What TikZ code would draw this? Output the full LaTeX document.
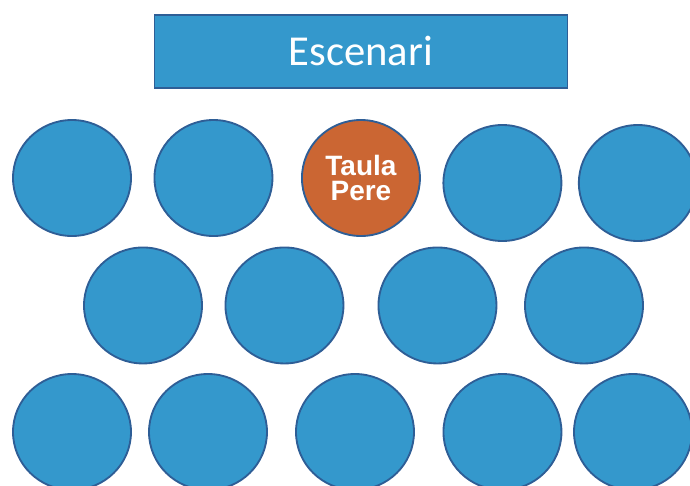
\documentclass[tikz,border=0pt]{standalone}
\usepackage{xcolor}
\usepackage{fontspec}
\usepackage{tikz}
\usetikzlibrary{positioning,shapes.geometric}

\newfontfamily\stagefont{Carlito}
\newfontfamily\taulafont{Liberation Sans}

\definecolor{taulablue}{RGB}{52,152,204}
\definecolor{taulaedge}{RGB}{46,94,150}
\definecolor{taulaorange}{RGB}{203,102,51}

\begin{document}
\begin{tikzpicture}[x=0.75pt, y=-0.75pt, on grid,
    taula/.style = {ellipse, draw=taulaedge, line width=1.4pt, fill=taulablue,
                    minimum width=88.5pt, minimum height=87pt, inner sep=0pt},
    pere/.style = {taula, fill=taulaorange, text=white,
                   font=\taulafont\bfseries\fontsize{21}{19}\selectfont, align=center},
    escenari/.style = {rectangle, draw=taulaedge, line width=1.1pt, fill=taulablue,
                       text=white, minimum width=310pt, minimum height=55pt,
                       font=\stagefont\fontsize{32}{36}\selectfont}]
    \useasboundingbox (0,0) rectangle (690,486);
    \clip (0,0) rectangle (690,486);

    % primera fila de taules
    \node[taula] (t11) at (72,178) {};
    \node[taula, right=106.1pt of t11] (t12) {};
    \node[pere, right=110.6pt of t12] (t13) {Taula\\Pere};  % taula del Pere
    \node[taula, below right=3.75pt and 106.1pt of t13] (t14) {};
    \node[taula, right=101.6pt of t14] (t15) {};

    % escenari, damunt la taula del Pere
    \node[escenari, above=94.9pt of t13] (esc) {Escenari};

    % segona fila
    \node[taula, below right=95.6pt and 53.25pt of t11] (t21) {};
    \node[taula, right=106.1pt of t21] (t22) {};
    \node[taula, right=114.75pt of t22] (t23) {};
    \node[taula, right=109.9pt of t23] (t24) {};

    % tercera fila
    \node[taula, below left=94.9pt and 53.25pt of t21] (t31) {};
    \node[taula, right=102pt of t31] (t32) {};
    \node[taula, right=110.25pt of t32] (t33) {};
    \node[taula, right=110.6pt of t33] (t34) {};
    \node[taula, right=97.9pt of t34] (t35) {};
\end{tikzpicture}
\end{document}
